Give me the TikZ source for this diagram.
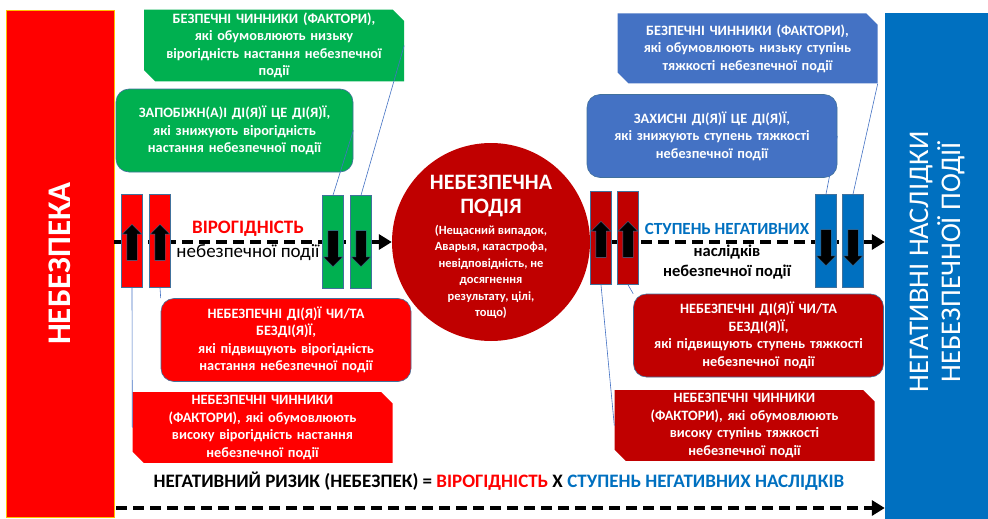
\documentclass[tikz,border=0pt]{standalone}
\usepackage{fontspec}
\setmainfont{Carlito}
\usetikzlibrary{arrows.meta,shapes.arrows,shapes.misc}

\definecolor{hazardred}{HTML}{FF0000}
\definecolor{eventred}{HTML}{C00000}
\definecolor{safegreen}{HTML}{00B050}
\definecolor{lossblue}{HTML}{0070C0}
\definecolor{calloutblue}{HTML}{4472C4}
\definecolor{rimblue}{HTML}{41719C}
\definecolor{rimyellow}{HTML}{FFC000}

\def\barwidth{21pt}
\def\barheight{93pt}

\begin{document}
\begin{tikzpicture}[x=1pt,y=-1pt]
    \tikzstyle{flow}=[line width=4.5pt,dash pattern=on 11pt off 6pt,-{Triangle[length=13pt,width=15pt]}]
    \tikzstyle{factor bar}=[rectangle,draw=rimblue,line width=0.6pt,minimum width=\barwidth,minimum height=\barheight,inner sep=0pt]
    \tikzstyle{push}=[single arrow,fill=black,draw=rimblue,line width=0.4pt,inner xsep=0pt,inner ysep=5pt,minimum height=36pt,single arrow head extend=4.5pt,single arrow head indent=0pt]
    \tikzstyle{push up}=[push,rotate=90]
    \tikzstyle{push down}=[push,rotate=-90]
    \tikzstyle{box}=[text=white,font=\bfseries\fontsize{14.3}{17.5}\selectfont,align=center,text width=244pt,minimum width=250pt,inner sep=0pt]
    \tikzstyle{action}=[box,rectangle,rounded corners=13pt,draw=rimblue,line width=0.6pt,minimum height=83pt]
    \tikzstyle{factor}=[box,chamfered rectangle,chamfered rectangle corners={north east,south west},chamfered rectangle xsep=8pt,minimum height=70pt]
    \tikzstyle{callout}=[draw=calloutblue,line width=0.6pt]

    % Page and the two side bars
    \fill[white] (0,0) rectangle (988,519);
    \useasboundingbox (0,0) rectangle (988,519);
    \node[rectangle,fill=hazardred,draw=rimyellow,line width=0.6pt,minimum width=108pt,minimum height=507pt] (hazard) at (60,263.5) {};
    \node[rotate=90,text=white,font=\bfseries\fontsize{33}{33}\selectfont] (hazardlabel) at (hazard) {НЕБЕЗПЕКА};
    \node[rectangle,fill=lossblue,minimum width=103pt,minimum height=506pt] (result) at (936.5,266) {};
    \node[rotate=90,text=white,align=center,font=\fontsize{28.5}{32}\selectfont] (resultlabel) at (937,262) {НЕГАТИВНІ НАСЛІДКИ\\НЕБЕЗПЕЧНОЇ ПОДІЇ};

    % The hazardous event
    \node[circle,fill=eventred,minimum size=198pt,inner sep=0pt] (event) at (491,242) {};
    \node[text=white,align=center,font=\bfseries\fontsize{22}{24}\selectfont] (eventtitle) at (491,196) {НЕБЕЗПЕЧНА\\ПОДІЯ};
    \node[text=white,align=center,font=\bfseries\fontsize{12.5}{16.5}\selectfont] (eventnote) at (491,272)
        {(Нещасний випадок,\\Аварыя, катастрофа,\\невідповідність, не\\досягнення\\результату, цілі,\\тощо)};

    % Main flow and the risk flow
    \draw[flow] (hazard.east |- event.west) -- (event.west);
    \draw[flow] (event.east) -- (result.west |- event.east);
    \coordinate (riskstart) at (116,508);
    \draw[flow,line width=4pt] (riskstart) -- (result.west |- riskstart);

    % Draw the factor bars
    \foreach \name / \x in {1/132,2/160}
        \node[factor bar,fill=hazardred] (rbar-\name) at (\x,241) {};
    \foreach \name / \x in {1/333,2/361}
        \node[factor bar,fill=safegreen] (gbar-\name) at (\x,242) {};
    \foreach \name / \x in {1/601,2/628}
        \node[factor bar,fill=eventred] (dbar-\name) at (\x,238) {};
    \foreach \name / \x in {1/826,2/853}
        \node[factor bar,fill=lossblue] (bbar-\name) at (\x,241) {};

    % Arrows inside the bars
    \foreach \bar in {rbar,dbar}
        \foreach \name in {1,2}
            \node[push up] (\bar-\name-push) at ([yshift=-4pt]\bar-\name) {};
    \foreach \bar in {gbar,bbar}
        \foreach \name in {1,2}
            \node[push down] (\bar-\name-push) at ([yshift=-4pt]\bar-\name) {};

    % Labels of the two factors
    \node[text=hazardred,font=\bfseries\fontsize{19}{19}\selectfont] (probtitle) at (248,229) {ВІРОГІДНІСТЬ};
    \node[font=\fontsize{19}{19}\selectfont] (probnote) at (248,253) {небезпечної події};
    \node[text=lossblue,font=\bfseries\fontsize{17}{17}\selectfont] (sevtitle) at (727,228.5) {СТУПЕНЬ НЕГАТИВНИХ};
    \node[align=center,font=\bfseries\fontsize{16.5}{20}\selectfont] (sevnote) at (727,262) {наслідків\\небезпечної події};

    % Callout boxes
    \node[factor,fill=safegreen] (safefactors) at (274,45.5)
        {БЕЗПЕЧНІ ЧИННИКИ (ФАКТОРИ),\\які обумовлюють низьку\\вірогідність настання небезпечної\\події};
    \node[action,fill=safegreen,minimum width=237pt,text width=232pt] (preventive) at (234.5,130.5)
        {ЗАПОБІЖН(А)І ДІ(Я)Ї ЦЕ ДІ(Я)Ї,\\які знижують вірогідність\\настання небезпечної події};
    \node[action,fill=hazardred] (riskyacts) at (286,340)
        {НЕБЕЗПЕЧНІ ДІ(Я)Ї ЧИ/ТА\\БЕЗДІ(Я)Ї,\\які підвищують вірогідність\\настання небезпечної події};
    \node[factor,fill=hazardred] (riskfactors) at (262.5,427.5)
        {НЕБЕЗПЕЧНІ ЧИННИКИ\\(ФАКТОРИ), які обумовлюють\\високу вірогідність настання\\небезпечної події};
    \node[factor,fill=calloutblue] (safeseverity) at (747.5,48.5)
        {БЕЗПЕЧНІ ЧИННИКИ (ФАКТОРИ),\\які обумовлюють низьку ступінь\\тяжкості небезпечної події};
    \node[action,fill=calloutblue] (protective) at (712,136)
        {ЗАХИСНІ ДІ(Я)Ї ЦЕ ДІ(Я)Ї,\\які знижують ступень тяжкості\\небезпечної події};
    \node[action,fill=eventred] (severeacts) at (758.5,335.5)
        {НЕБЕЗПЕЧНІ ДІ(Я)Ї ЧИ/ТА\\БЕЗДІ(Я)Ї,\\які підвищують ступень тяжкості\\небезпечної події};
    \node[factor,fill=eventred] (severefactors) at (744.5,425.5)
        {НЕБЕЗПЕЧНІ ЧИННИКИ\\(ФАКТОРИ), які обумовлюють\\високу ступінь тяжкості\\небезпечної події};

    % Connect the boxes with their bars
    \draw[callout] (safefactors.east) -- (gbar-2.north);
    \draw[callout] (preventive.east) -- (gbar-1.north);
    \draw[callout] (rbar-2.south) -- (riskyacts.north west);
    \draw[callout] (rbar-1.south) -- (riskfactors.west);
    \draw[callout] (safeseverity.south east) -- (bbar-2.north);
    \draw[callout] (protective.east) -- (bbar-1.north);
    \draw[callout] (dbar-2.south) -- (severeacts.north west);
    \draw[callout] (dbar-1.south) -- (severefactors.west);

    % The risk formula
    \node[font=\bfseries\fontsize{19}{19}\selectfont] (formula) at (499,481)
        {НЕГАТИВНИЙ РИЗИК (НЕБЕЗПЕК) = \textcolor{hazardred}{ВІРОГІДНІСТЬ} Х \textcolor{lossblue}{СТУПЕНЬ НЕГАТИВНИХ НАСЛІДКІВ}};
\end{tikzpicture}
\end{document}
